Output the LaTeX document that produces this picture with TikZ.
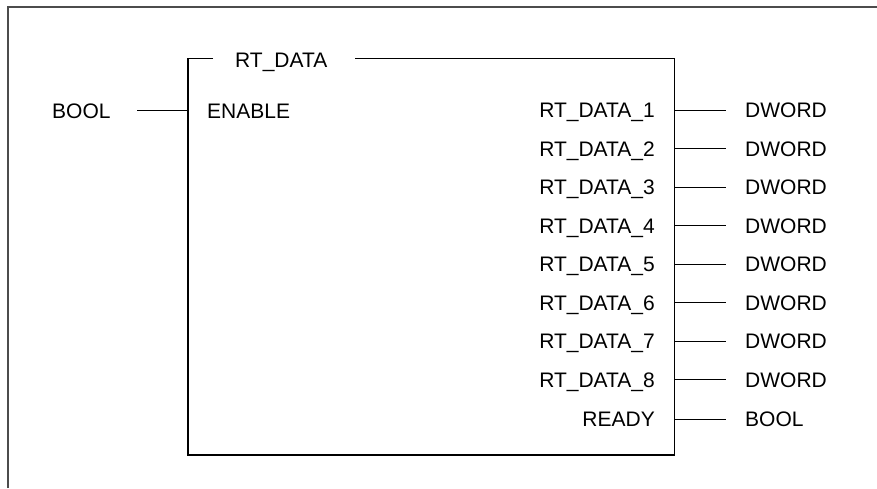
\documentclass[tikz,border=0pt]{standalone}
\usepackage{fontspec}
\setmainfont{Liberation Sans}
\usetikzlibrary{positioning}

\begin{document}
\begin{tikzpicture}[x=1pt,y=-1pt,
  lbl/.style={font=\fontsize{21}{25}\selectfont, inner sep=0pt},
  box/.style={line width=1.3pt},
  wire/.style={line width=1pt}]
\useasboundingbox (0,0) rectangle (877,488);

% okvir
\coordinate (f0) at (8,488);
\coordinate (f1) at (8,6.5);
\coordinate (f2) at (877,6.5);
\draw[line width=2pt, black!70] (f0)--(f1)--(f2);

\coordinate (tl) at (188,58.5);
\coordinate (tr) at (674.5,58.5);
\coordinate (bl) at (188,455);
\coordinate (br) at (674.5,455);
\coordinate (t1) at (213,58.5);
\coordinate (t2) at (355,58.5);

\draw[box] (t1)--(tl)--(bl)--(br)--(tr)--(t2);

\node[lbl, anchor=base west] (title) at (235,67) {RT\_DATA};

% vhod
\node[lbl, anchor=base west] (inbool) at (52,118) {BOOL};
\node[lbl, anchor=base west] (enable) at (207,118) {ENABLE};
\coordinate (w0) at (137,110.5);
\coordinate (w1) at (188,110.5);
\draw[wire] (w0)--(w1);

% izhodi
\foreach \i in {1,...,8}{
  \pgfmathsetmacro{\y}{110+(\i-1)*38.5}
  \node[lbl, anchor=base east] (out\i) at (655,\y+7.5) {RT\_DATA\_\i};
  \node[lbl, anchor=base west] (typ\i) at (745,\y+7.5) {DWORD};
  \coordinate (p\i) at (674.5,\y);
  \coordinate (q\i) at (726,\y);
  \draw[wire] (p\i)--(q\i);
}

\node[lbl, anchor=base east] (ready) at (655,426.5) {READY};
\node[lbl, anchor=base west] (outbool) at (745,426.5) {BOOL};
\coordinate (p9) at (674.5,419);
\coordinate (q9) at (726,419);
\draw[wire] (p9)--(q9);
\end{tikzpicture}
\end{document}
